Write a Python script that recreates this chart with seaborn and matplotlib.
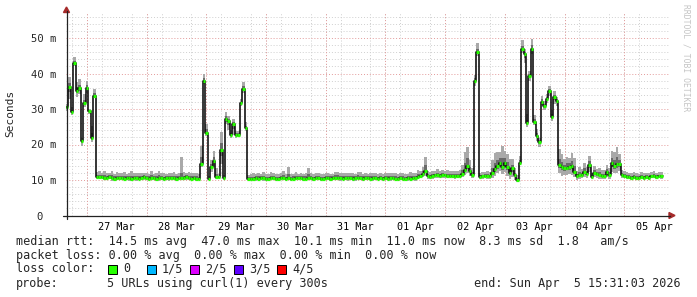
import numpy as np
import pandas as pd
import matplotlib
matplotlib.use("Agg")
import matplotlib.pyplot as plt
import seaborn as sns
from matplotlib.patches import Polygon, Rectangle
from matplotlib.lines import Line2D

# ---------------- data (hourly medians and smoke spreads, ms) ----------------
med = [
    30.5, 36.2, 29.2, 43.0, 35.2, 35.8, 21.1, 31.6, 36.0, 29.4, 21.8, 33.7, 10.8,
    10.9, 10.8, 10.6, 10.5, 10.9, 10.6, 10.4, 10.5, 10.7, 10.5,
    10.4, 10.6, 10.5, 10.3, 10.5, 10.6, 10.4, 10.5, 10.8, 10.5,
    10.4, 10.6, 10.5, 10.4, 10.6, 10.5, 10.3, 10.6, 10.5, 10.7,
    10.5, 10.4, 10.6, 10.5, 10.6, 10.8, 10.5, 10.4, 10.6, 10.4,
    10.4, 14.4, 38.0, 23.3, 10.2, 13.7, 15.3, 10.8, 10.8, 18.4, 10.5,
    27.2, 26.6, 22.7, 25.7, 22.7, 22.7, 31.6, 35.5, 24.7, 10.4,
    10.2, 10.3, 10.5, 10.4, 10.6, 10.5, 10.3, 10.4, 10.6, 10.5,
    10.4, 10.3, 10.5, 10.6, 10.4, 10.5, 10.3, 10.4, 10.6, 10.5,
    10.5, 10.4, 10.3, 10.5, 10.6, 10.4, 10.5, 10.5, 10.3, 10.4,
    10.6, 10.5, 10.4, 10.5, 10.6, 10.7, 10.5, 10.4, 10.6, 10.5,
    10.6, 10.4, 10.5, 10.7, 10.5, 10.4, 10.6, 10.5, 10.4, 10.5,
    10.6, 10.4, 10.5, 10.3, 10.5, 10.4, 10.6, 10.5, 10.4, 10.3,
    10.5, 10.4, 10.3, 10.5, 10.4, 10.6, 10.5, 10.8,
    11.1, 11.6, 12.4, 11.0, 10.8, 11.0, 11.3, 11.4, 11.2, 11.3, 11.3, 11.2, 11.1, 11.1, 11.0,
    11.1, 11.1, 11.7, 12.8, 13.9, 12.6, 11.4, 38.0, 46.0, 10.9,
    11.0, 11.1, 11.0, 11.0, 12.1, 13.1, 14.0, 14.9, 13.7, 14.7,
    13.7, 11.9, 13.3, 11.3, 10.0, 14.9, 46.8, 45.4, 26.0, 39.3,
    47.0, 26.4, 22.4, 20.8, 32.1, 30.8, 32.8, 35.1, 27.7, 33.3,
    32.3, 14.1, 13.7, 13.3, 13.5, 13.7, 14.0, 12.3, 11.1, 11.3,
    11.5, 12.3, 11.7, 14.3, 10.9, 11.9, 11.6, 11.4, 11.2, 11.2,
    12.3, 11.4, 14.7, 13.9, 14.4, 14.4, 11.4, 11.2, 10.9, 10.9,
    10.6, 10.9, 10.5, 10.6, 10.9, 10.6, 10.9, 10.6, 11.0, 11.2,
    10.9, 11.0, 11.0,
]

# outer smoke: distance from median to highest / lowest ping
up = [
    1.0, 2.7, 1.5, 1.6, 2.5, 2.6, 0.6, 2.5, 2.0, 0.5, 3.5, 1.8, 1.5,
    1.6, 1.3, 1.8, 1.5, 1.2, 2.0, 1.4, 1.7, 1.3, 1.5,
    1.8, 1.2, 1.6, 2.2, 1.4, 1.3, 1.7, 1.5, 1.2, 1.6,
    1.4, 1.8, 1.3, 1.5, 1.9, 1.4, 1.6, 1.2, 1.5, 1.3,
    1.7, 1.4, 1.5, 6.0, 1.6, 1.2, 1.8, 1.5, 1.3, 1.6,
    1.2, 5.2, 2.0, 2.5, 0.8, 2.0, 3.0, 2.5, 1.0, 5.0, 1.0,
    2.0, 1.5, 1.5, 1.5, 1.0, 1.0, 1.3, 2.2, 1.5, 1.0,
    1.4, 1.6, 1.3, 1.5, 1.2, 1.7, 1.4, 1.3, 1.6, 1.5,
    1.3, 1.5, 1.4, 1.8, 1.3, 3.3, 1.5, 1.4, 1.6, 1.3,
    1.5, 1.4, 1.7, 3.0, 1.4, 1.3, 1.6, 1.5, 1.4, 1.3,
    1.5, 1.6, 1.4, 1.3, 1.7, 1.5, 1.4, 1.6, 1.3, 1.5,
    1.4, 1.6, 1.3, 1.5, 1.7, 1.4, 1.5, 1.3, 1.6, 1.4,
    1.5, 1.3, 1.6, 1.4, 1.5, 1.7, 1.3, 1.4, 1.6, 1.5,
    1.4, 1.6, 1.5, 1.3, 1.8, 1.5, 1.6, 2.0,
    1.5, 2.0, 4.2, 1.6, 1.4, 1.5, 1.3, 1.6, 1.4, 1.5, 1.3, 1.6, 1.4, 1.5, 1.6,
    1.5, 1.6, 2.5, 5.0, 5.4, 3.0, 2.0, 1.5, 2.5, 1.2,
    1.3, 1.2, 1.4, 1.3, 3.5, 4.5, 4.0, 3.0, 6.0, 3.5,
    3.5, 4.0, 2.5, 2.0, 1.5, 2.0, 2.5, 1.5, 2.5, 1.5,
    2.6, 2.0, 2.0, 1.0, 1.5, 1.5, 1.5, 1.3, 2.0, 1.8,
    1.0, 4.5, 3.5, 2.5, 3.0, 2.5, 3.5, 4.0, 1.5, 2.5,
    1.5, 2.5, 2.0, 2.5, 1.0, 2.0, 1.5, 2.0, 1.5, 1.5,
    2.0, 2.0, 3.5, 4.0, 5.0, 3.0, 1.5, 1.4, 1.3, 1.2,
    1.4, 1.3, 1.5, 1.2, 1.4, 1.3, 1.2, 1.5, 1.3, 1.4,
    1.2, 1.3, 1.2,
]
dn = [
    1.0, 3.5, 0.8, 0.8, 1.8, 1.6, 1.5, 1.0, 1.5, 0.8, 1.0, 0.5, 0.5,
    0.6, 0.5, 0.7, 0.6, 0.5, 0.8, 0.6, 0.5, 0.7, 0.6,
    0.5, 0.6, 0.7, 0.5, 0.6, 0.8, 0.5, 0.6, 0.7, 0.5,
    0.6, 0.7, 0.5, 0.6, 0.8, 0.5, 0.6, 0.5, 0.7, 0.6,
    0.5, 0.6, 0.7, 0.6, 0.5, 0.8, 0.6, 0.5, 0.7, 0.6,
    0.5, 0.8, 1.0, 1.0, 0.3, 1.5, 1.5, 0.5, 0.5, 4.0, 0.5,
    1.5, 2.5, 1.0, 3.0, 1.0, 0.5, 0.8, 1.0, 0.8, 0.5,
    0.5, 0.6, 0.7, 0.5, 0.6, 0.8, 0.5, 0.6, 0.7, 0.5,
    0.6, 0.7, 0.5, 0.6, 0.8, 0.5, 0.6, 0.5, 0.7, 0.6,
    0.5, 0.6, 0.7, 0.6, 0.5, 0.8, 0.6, 0.5, 0.7, 0.6,
    0.6, 0.5, 0.7, 0.6, 0.5, 0.6, 0.8, 0.5, 0.6, 0.7,
    0.5, 0.6, 0.7, 0.5, 0.6, 0.8, 0.5, 0.6, 0.5, 0.7,
    0.6, 0.5, 0.6, 0.7, 0.6, 0.5, 0.8, 0.6, 0.5, 0.7,
    0.6, 0.5, 0.6, 0.7, 0.5, 0.6, 0.8, 0.6,
    0.6, 0.8, 1.2, 0.6, 0.5, 0.6, 0.7, 0.8, 0.6, 0.7, 0.6, 0.7, 0.6, 0.6, 0.7,
    0.6, 0.6, 0.8, 1.5, 2.0, 1.5, 0.8, 1.5, 1.0, 0.6,
    0.7, 0.6, 0.6, 0.7, 1.5, 2.0, 2.0, 2.5, 2.0, 2.5,
    2.5, 1.5, 2.5, 1.2, 0.5, 0.8, 1.0, 2.5, 1.0, 1.5,
    1.5, 1.0, 1.5, 1.5, 1.0, 1.0, 1.0, 1.5, 1.2, 2.0,
    1.5, 2.0, 2.5, 2.0, 2.0, 2.0, 2.5, 1.5, 1.0, 1.0,
    1.0, 1.5, 1.0, 2.0, 0.5, 1.0, 1.0, 1.0, 0.8, 0.8,
    1.5, 1.0, 2.5, 2.0, 2.5, 2.0, 0.7, 0.6, 0.6, 0.5,
    0.6, 0.6, 0.5, 0.6, 0.6, 0.5, 0.6, 0.6, 0.5, 0.6,
    0.6, 0.5, 0.6,
]
# inner smoke: distance from median to 2nd highest / 2nd lowest ping
iup = [
    0.4, 1.1, 0.6, 0.6, 1.0, 1.0, 0.3, 1.0, 0.8, 0.2, 1.4, 0.7, 0.6,
    0.6, 0.5, 0.7, 0.6, 0.5, 0.8, 0.6, 0.7, 0.5, 0.6,
    0.7, 0.5, 0.6, 0.9, 0.6, 0.5, 0.7, 0.6, 0.5, 0.6,
    0.6, 0.7, 0.5, 0.6, 0.8, 0.6, 0.6, 0.5, 0.6, 0.5,
    0.7, 0.6, 0.6, 1.5, 0.6, 0.5, 0.7, 0.6, 0.5, 0.6,
    0.5, 2.0, 0.8, 1.0, 0.3, 0.8, 1.2, 1.0, 0.4, 2.0, 0.4,
    0.8, 0.6, 0.6, 0.6, 0.4, 0.4, 0.5, 0.9, 0.6, 0.4,
    0.6, 0.6, 0.5, 0.6, 0.5, 0.7, 0.6, 0.5, 0.6, 0.6,
    0.5, 0.6, 0.6, 0.7, 0.5, 1.3, 0.6, 0.6, 0.6, 0.5,
    0.6, 0.6, 0.7, 1.2, 0.6, 0.5, 0.6, 0.6, 0.6, 0.5,
    0.6, 0.6, 0.6, 0.5, 0.7, 0.6, 0.6, 0.6, 0.5, 0.6,
    0.6, 0.6, 0.5, 0.6, 0.7, 0.6, 0.6, 0.5, 0.6, 0.6,
    0.6, 0.5, 0.6, 0.6, 0.6, 0.7, 0.5, 0.6, 0.6, 0.6,
    0.6, 0.6, 0.6, 0.5, 0.7, 0.6, 0.6, 0.8,
    0.6, 0.8, 1.7, 0.6, 0.6, 0.6, 0.5, 0.6, 0.6, 0.6, 0.5, 0.6, 0.6, 0.6, 0.6,
    0.6, 0.6, 1.0, 2.0, 2.2, 1.2, 0.8, 0.6, 1.0, 0.5,
    0.5, 0.5, 0.6, 0.5, 1.4, 1.8, 1.6, 1.2, 2.4, 1.4,
    1.4, 1.6, 1.0, 0.8, 0.6, 0.8, 1.0, 0.6, 1.0, 0.6,
    1.0, 0.8, 0.8, 0.4, 0.6, 0.6, 0.6, 0.5, 0.8, 0.7,
    0.4, 1.8, 1.4, 1.0, 1.2, 1.0, 1.4, 1.6, 0.6, 1.0,
    0.6, 1.0, 0.8, 1.0, 0.4, 0.8, 0.6, 0.8, 0.6, 0.6,
    0.8, 0.8, 1.4, 1.6, 2.0, 1.2, 0.6, 0.6, 0.5, 0.5,
    0.6, 0.5, 0.6, 0.5, 0.6, 0.5, 0.5, 0.6, 0.5, 0.6,
    0.5, 0.5, 0.5,
]
idn = [
    0.4, 1.4, 0.3, 0.3, 0.7, 0.6, 0.6, 0.4, 0.6, 0.3, 0.4, 0.2, 0.2,
    0.3, 0.2, 0.3, 0.2, 0.2, 0.3, 0.2, 0.2, 0.3, 0.2,
    0.2, 0.3, 0.3, 0.2, 0.2, 0.3, 0.2, 0.2, 0.3, 0.2,
    0.2, 0.3, 0.2, 0.2, 0.3, 0.2, 0.2, 0.2, 0.3, 0.2,
    0.2, 0.2, 0.3, 0.2, 0.2, 0.3, 0.2, 0.2, 0.3, 0.2,
    0.2, 0.3, 0.4, 0.4, 0.1, 0.6, 0.6, 0.2, 0.2, 1.6, 0.2,
    0.6, 1.0, 0.4, 1.2, 0.4, 0.2, 0.3, 0.4, 0.3, 0.2,
    0.2, 0.2, 0.3, 0.2, 0.2, 0.3, 0.2, 0.2, 0.3, 0.2,
    0.2, 0.3, 0.2, 0.2, 0.3, 0.2, 0.2, 0.2, 0.3, 0.2,
    0.2, 0.2, 0.3, 0.2, 0.2, 0.3, 0.2, 0.2, 0.3, 0.2,
    0.2, 0.2, 0.3, 0.2, 0.2, 0.2, 0.3, 0.2, 0.2, 0.3,
    0.2, 0.2, 0.3, 0.2, 0.2, 0.3, 0.2, 0.2, 0.2, 0.3,
    0.2, 0.2, 0.2, 0.3, 0.2, 0.2, 0.3, 0.2, 0.2, 0.3,
    0.2, 0.2, 0.2, 0.3, 0.2, 0.2, 0.3, 0.2,
    0.2, 0.3, 0.5, 0.2, 0.2, 0.2, 0.3, 0.3, 0.2, 0.3, 0.2, 0.3, 0.2, 0.2, 0.3,
    0.2, 0.2, 0.3, 0.6, 0.8, 0.6, 0.3, 0.6, 0.4, 0.2,
    0.3, 0.2, 0.2, 0.3, 0.6, 0.8, 0.8, 1.0, 0.8, 1.0,
    1.0, 0.6, 1.0, 0.5, 0.2, 0.3, 0.4, 1.0, 0.4, 0.6,
    0.6, 0.4, 0.6, 0.6, 0.4, 0.4, 0.4, 0.6, 0.5, 0.8,
    0.6, 0.8, 1.0, 0.8, 0.8, 0.8, 1.0, 0.6, 0.4, 0.4,
    0.4, 0.6, 0.4, 0.8, 0.2, 0.4, 0.4, 0.4, 0.3, 0.3,
    0.6, 0.4, 1.0, 0.8, 1.0, 0.8, 0.3, 0.2, 0.2, 0.2,
    0.2, 0.2, 0.2, 0.2, 0.2, 0.2, 0.2, 0.2, 0.2, 0.2,
    0.2, 0.2, 0.2,
]

day_labels = ["27 Mar", "28 Mar", "29 Mar", "30 Mar", "31 Mar",
              "01 Apr", "02 Apr", "03 Apr", "04 Apr", "05 Apr"]
y_ticks = [0, 10, 20, 30, 40, 50]
y_tick_labels = ["0  ", "10 m", "20 m", "30 m", "40 m", "50 m"]

loss_labels = ["0", "1/5", "2/5", "3/5", "4/5"]
loss_colors = ["#26ff00", "#00b8ff", "#dd00ff", "#5e00ff", "#ff0000"]

line_rtt = "median rtt:  14.5 ms avg  47.0 ms max  10.1 ms min  11.0 ms now  8.3 ms sd  1.8   am/s"
line_loss = "packet loss: 0.00 % avg  0.00 % max  0.00 % min  0.00 % now"
probe_text = "5 URLs using curl(1) every 300s"
end_text = "end: Sun Apr  5 15:31:03 2026"

# ---------------- figure ----------------
sns.set_theme(style="white")
plt.rcParams["font.family"] = ["DejaVu Sans Mono", "DejaVu Sans"]

W, H = 697, 297
fig = plt.figure(figsize=(W / 100, H / 100), dpi=100)
fig.patch.set_facecolor("white")


def fx(px):
    return px / W


def fy(py):
    return 1 - py / H


x0px, x1px, ytop, ybot = 65.8, 669.0, 13.0, 215.5
ax = fig.add_axes([fx(x0px), fy(ybot), (x1px - x0px) / W, (ybot - ytop) / H])
ax.set_facecolor("white")

n = len(med)
t0 = -(8 + 29 / 60) / 24          # 26 Mar 15:31 relative to 27 Mar 00:00, in days
t = t0 + np.arange(n) / 24.0
t_ext = np.append(t, t0 + n / 24.0)

med_a = np.array(med)
up_a, dn_a = np.array(up), np.array(dn)
iup_a, idn_a = np.array(iup), np.array(idn)


def ext(a):
    return np.append(a, a[-1])


ax.fill_between(t_ext, ext(med_a - dn_a), ext(med_a + up_a), step="post",
                color="#a9a9a9", lw=0, zorder=2)
ax.fill_between(t_ext, ext(med_a - idn_a), ext(med_a + iup_a), step="post",
                color="#6a6a6a", lw=0, zorder=2.1)

df = pd.DataFrame({"t": t_ext, "median": ext(med_a)})
sns.lineplot(data=df, x="t", y="median", drawstyle="steps-post", color="black",
             lw=1.1, estimator=None, ax=ax, zorder=3)
ax.hlines(med_a, t, t + 1 / 24.0, colors=loss_colors[0], lw=2.3, zorder=4)

# limits
ax.set_xlim(t0, t0 + (x1px - x0px) / 60.0)
ax.set_ylim(0, (ybot - ytop) / 3.55)

# grids
days = np.arange(len(day_labels))
ax.set_xticks(days + 0.5)
ax.set_xticklabels(day_labels)
ax.set_xticks(np.arange(-0.25, len(day_labels), 0.25), minor=True)
ax.set_yticks(y_ticks)
ax.set_yticklabels(y_tick_labels)
ax.set_yticks(np.arange(0, 57, 2), minor=True)

dot = (0, (1, 2))
ax.grid(False)
ax.grid(which="minor", axis="both", color="#cfcfcf", lw=0.7, ls=dot, zorder=1)
ax.grid(which="major", axis="y", color="#e39a9a", lw=0.7, ls=dot, zorder=1.2)
ax.vlines(days, 0, 1, transform=ax.get_xaxis_transform(), colors="#e39a9a",
          lw=0.7, linestyles=dot, zorder=1.2)

ax.tick_params(axis="x", which="both", length=0, labelsize=7.3, pad=5,
               colors="#000000")
ax.tick_params(axis="y", which="major", length=3, width=0.6, color="#888888",
               labelsize=7.6, pad=4)
ax.tick_params(axis="y", which="minor", length=2, width=0.6, color="#bbbbbb")
ax.set_xlabel("")
ax.set_ylabel("")
for s in ax.spines.values():
    s.set_visible(False)

# axis lines with arrows
fig.add_artist(Line2D([fx(66.5), fx(66.5)], [fy(219), fy(11)], color="#222222", lw=0.9))
fig.add_artist(Line2D([fx(63), fx(670)], [fy(215.5), fy(215.5)], color="#222222", lw=0.9))
fig.add_artist(Polygon([[fx(63.5), fy(12.5)], [fx(69.5), fy(12.5)], [fx(66.5), fy(7)]],
                       closed=True, color="#a52a2a", transform=fig.transFigure))
fig.add_artist(Polygon([[fx(669), fy(212.5)], [fx(669), fy(218.5)], [fx(675), fy(215.5)]],
                       closed=True, color="#a52a2a", transform=fig.transFigure))

# y label + watermark
fig.text(fx(10.5), fy(113.5), "Seconds", rotation=90, ha="center", va="center",
         fontsize=8)
fig.text(fx(686), fy(4), "RRDTOOL / TOBI OETIKER", rotation=270, ha="center",
         va="top", fontsize=5.8, color="#c4c4c4")

# legend block
fs = 8.5
fig.text(fx(16), fy(241), line_rtt, ha="left", va="center", fontsize=fs)
fig.text(fx(16), fy(255), line_loss, ha="left", va="center", fontsize=fs)
fig.text(fx(16), fy(269), "loss color:", ha="left", va="center", fontsize=fs)
box_x = [108, 147, 190, 234, 277]
for bx, lab, col in zip(box_x, loss_labels, loss_colors):
    fig.add_artist(Rectangle((fx(bx), fy(274)), 9 / W, 9 / H, facecolor=col,
                             edgecolor="black", lw=0.7, transform=fig.transFigure))
    fig.text(fx(bx + 15), fy(269), lab, ha="left", va="center", fontsize=fs)
fig.text(fx(16), fy(284), "probe:", ha="left", va="center", fontsize=fs)
fig.text(fx(107), fy(284), probe_text, ha="left", va="center", fontsize=fs)
fig.text(fx(681), fy(284), end_text, ha="right", va="center", fontsize=fs)

fig.savefig("out.png", dpi=100, facecolor="white")
